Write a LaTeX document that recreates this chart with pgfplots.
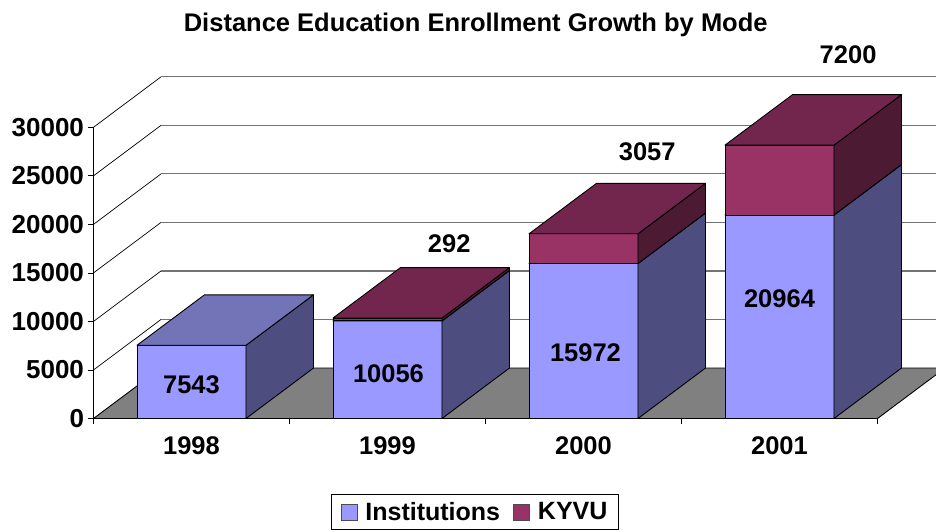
\documentclass[border=0pt]{standalone}
\usepackage{pgfplots}
\pgfplotsset{compat=1.18}
\usepackage{fontspec}
\setmainfont{Liberation Sans}
\definecolor{instF}{RGB}{153,153,255}
\definecolor{instT}{RGB}{115,115,184}
\definecolor{instS}{RGB}{77,77,128}
\definecolor{kyF}{RGB}{153,51,102}
\definecolor{kyT}{RGB}{115,38,77}
\definecolor{kyS}{RGB}{77,26,51}
\definecolor{floorgray}{RGB}{128,128,128}
\newcommand{\lab}{\fontsize{25.5}{30}\selectfont\bfseries}
\newcommand{\stackbox}[7]{%
  \pgfmathsetmacro{\xa}{#1-0.278}\pgfmathsetmacro{\xb}{#1+0.278}%
  \pgfmathsetmacro{\xc}{\xa+0.3444}\pgfmathsetmacro{\xd}{\xb+0.3444}%
  \addplot[fill=#7F,draw=black,line width=0.9pt,line join=round,forget plot] coordinates {(\xa,#2)(\xb,#2)(\xb,#3)(\xa,#3)} -- cycle;
  \addplot[fill=#7S,draw=black,line width=0.9pt,line join=round,forget plot] coordinates {(\xb,#2)(\xd,#4)(\xd,#5)(\xb,#3)} -- cycle;
  \addplot[fill=#7T,draw=black,line width=0.9pt,line join=round,forget plot] coordinates {(\xa,#3)(\xb,#3)(\xd,#5)(\xc,#5)} -- cycle;
}
\newcommand{\gridlevel}[2]{%
  \addplot[black,line width=0.7pt,forget plot] coordinates {(-0.5,#1)(-0.1556,#2)};
  \addplot[black!55,line width=1.1pt,forget plot] coordinates {(-0.1556,#2)(3.8444,#2)};
}
\begin{document}
\begin{tikzpicture}[x=1pt,y=1pt]
\path[use as bounding box] (-93.5pt,-112.5pt) rectangle (842.5pt,418.5pt);
\begin{axis}[
  at={(0pt,0pt)},
  anchor=south west,
  scale only axis,width=784pt,height=291.2pt,
  xmin=-0.5,xmax=3.5,ymin=0,ymax=30000,
  clip=false,
  axis x line*=bottom,axis y line*=left,
  axis line style={-,black,line width=0.9pt},
  xtick={0,1,2,3},xticklabels={1998,1999,2000,2001},
  minor xtick={-0.5,0.5,1.5,2.5,3.5},
  major x tick style={draw=none},
  minor x tick style={black,line width=0.8pt},
  ytick={0,5000,10000,15000,20000,25000,30000},
  y tick style={black,line width=0.8pt},
  major tick length=5pt,minor tick length=5pt,
  tick align=outside,
  scaled ticks=false,
  /pgf/number format/assume math mode=true,
  /pgf/number format/1000 sep={},
  yticklabel style={font=\fontsize{26}{30}\selectfont\bfseries,xshift=-1pt},
  xticklabel style={font=\lab,yshift=-10pt},
  legend style={at={(0.4866,-0.3215)},anchor=center,draw=black,line width=0.9pt,
    font=\fontsize{25}{30}\selectfont\bfseries,legend columns=2,inner xsep=9pt,inner ysep=6pt,
    /tikz/every even column/.append style={column sep=11pt}},
  legend image code/.code={\draw[#1,line width=0.8pt] (0pt,-8pt) rectangle (16pt,8pt);\path (22pt,0pt);},
]
% floor
\addplot[fill=floorgray,draw=black,line width=0.9pt,forget plot] coordinates {(-0.5,0)(3.5,0)(3.8444,5200)(-0.1556,5200)} -- cycle;
\gridlevel{5000}{10200}
\gridlevel{10000}{15200}
\gridlevel{15000}{20200}
\gridlevel{20000}{25200}
\gridlevel{25000}{30200}
\gridlevel{30000}{35200}
% bars
\stackbox{0}{0}{7543}{5200}{12743}{}{inst}
\stackbox{1}{0}{10056}{5200}{15256}{}{inst}
\stackbox{1}{10056}{10348}{15256}{15548}{}{ky}
\stackbox{2}{0}{15972}{5200}{21172}{}{inst}
\stackbox{2}{15972}{19029}{21172}{24229}{}{ky}
\stackbox{3}{0}{20964}{5200}{26164}{}{inst}
\stackbox{3}{20964}{28164}{26164}{33364}{}{ky}
\addlegendimage{fill=instF,draw=black!70}
\addlegendentry{Institutions}
\addlegendimage{fill=kyF,draw=black!70}
\addlegendentry{KYVU}
\node[font=\lab] at (axis cs:0,3450) {7543};
\node[font=\lab] at (axis cs:1.005,4650) {10056};
\node[font=\lab] at (axis cs:2.01,6800) {15972};
\node[font=\lab] at (axis cs:3,12350) {20964};
\node[font=\lab] at (axis cs:1.315,18020) {292};
\node[font=\lab] at (axis cs:2.325,27500) {3057};
\node[font=\lab] at (axis cs:3.35,37500) {7200};
\node[font=\fontsize{25.5}{30}\selectfont\bfseries] at (axis cs:1.45,40600) {Distance Education Enrollment Growth by Mode};
\end{axis}
\end{tikzpicture}
\end{document}
